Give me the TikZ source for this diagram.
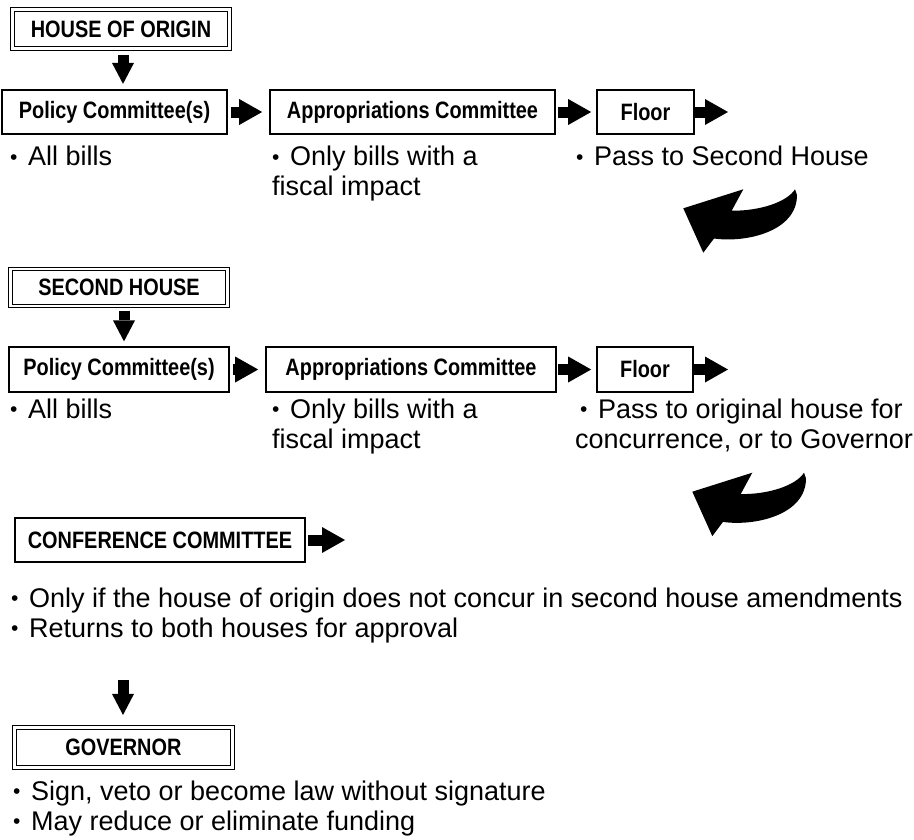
\documentclass[tikz,border=0pt]{standalone}
\usepackage{fontspec}
\setmainfont{Liberation Sans}
\newfontfamily\labfont{Liberation Sans}[FakeStretch=0.84]
\usetikzlibrary{arrows.meta}
\newcommand\bul{\raisebox{1.4pt}{\fontsize{21}{21}\selectfont •}\hspace{10.5pt}}
\tikzset{
  boxlab/.style={inner sep=0pt, font=\labfont\bfseries\fontsize{23.7}{26}\selectfont},
  cbox/.style={boxlab, draw, line width=1.7pt, minimum height=44.5pt},
  hbox/.style={boxlab, draw, double, double distance=2.4pt, line width=1.1pt},
  harrow/.style={line width=11pt, -{Triangle[length=23pt,width=26pt,line width=0pt]}},
  varrow/.style={line width=11pt, -{Triangle[length=21pt,width=22pt,line width=0pt]}},
  btxt/.style={anchor=base west, inner sep=0pt, align=left, font=\fontsize{27}{30}\selectfont},
  curvy/.pic={\fill (683.3,208.3) -- (743.3,189.3) -- (731.7,210.7)
      .. controls (760,211) and (787,202) .. (795,189.3) -- (797,195)
      .. controls (797,232) and (745,243) .. (714,238.5) -- (703.3,252.7) -- cycle;}
}
\begin{document}
\begin{tikzpicture}[x=1pt,y=-1pt]
\useasboundingbox (0,0) rectangle (914,839);
% House of origin
\node[hbox, minimum width=217pt, minimum height=39pt] (hoo) at (121,29) {HOUSE OF ORIGIN};
\node[cbox, minimum width=225pt] (pol1) at (114.5,112) {Policy Committee(s)};
\node[cbox, minimum width=285pt] (app1) at (412.5,112) {Appropriations Committee};
\node[cbox, minimum width=97pt] (flo1) at (645.5,112) {Floor};
\coordinate (o1) at (728,112);
\draw[varrow, shorten <=6pt, shorten >=5pt] ([xshift=2pt]hoo.south) -- ([xshift=8.5pt]pol1.north);
\draw[harrow, shorten <=2.8pt, shorten >=7pt] (pol1.east) -- (app1.west);
\draw[harrow, shorten <=2pt, shorten >=5pt] (app1.east) -- (flo1.west);
\draw[harrow] (flo1.east) -- (o1);
% two-line texts are placed at the baseline of their last line
\node[btxt] (t1a) at (10,165.7) {\bul All bills};
\node[btxt] (t1b) at (272,195.7) {\bul Only bills with a\\fiscal impact};
\node[btxt] (t1c) at (576,165.7) {\bul Pass to Second House};
\pic at (0,0) {curvy};
% Second house
\node[hbox, minimum width=217pt, minimum height=37pt] (sh) at (119,287.5) {SECOND HOUSE};
\node[cbox, minimum width=220pt] (pol2) at (119,369.5) {Policy Committee(s)};
\node[cbox, minimum width=290pt] (app2) at (411,369.5) {Appropriations Committee};
\node[cbox, minimum width=96pt] (flo2) at (645,369.5) {Floor};
\coordinate (o2) at (728,369.5);
\draw[varrow, shorten <=4pt, shorten >=5pt] ([xshift=5pt]sh.south) -- ([xshift=5pt]pol2.north);
\draw[harrow, shorten <=3pt, shorten >=7pt] (pol2.east) -- (app2.west);
\draw[harrow, shorten <=1pt, shorten >=5pt] (app2.east) -- (flo2.west);
\draw[harrow] (flo2.east) -- (o2);
\node[btxt] (t2a) at (10,418) {\bul All bills};
\node[btxt] (t2b) at (272,448) {\bul Only bills with a\\fiscal impact};
\node[btxt] (t2c) at (575,448) {\hspace*{5pt}\bul Pass to original house for\\concurrence, or to Governor};
\pic at (9,283.4) {curvy};
% Conference committee
\node[cbox, minimum width=290pt] (conf) at (160,540) {CONFERENCE COMMITTEE};
\coordinate (o3) at (345,540);
\draw[harrow, shorten <=2pt] (conf.east) -- (o3);
\node[btxt] (tc) at (11,637) {\bul Only if the house of origin does not concur in second house amendments\\\bul Returns to both houses for approval};
% Governor
\coordinate (gin) at (123,680);
\node[hbox, minimum width=218pt, minimum height=40pt] (gov) at (123.4,747.5) {GOVERNOR};
\draw[varrow, shorten >=12pt] (gin) -- ([xshift=-0.4pt]gov.north);
\node[btxt] (tg) at (13,830) {\bul Sign, veto or become law without signature\\\bul May reduce or eliminate funding};
\end{tikzpicture}
\end{document}
